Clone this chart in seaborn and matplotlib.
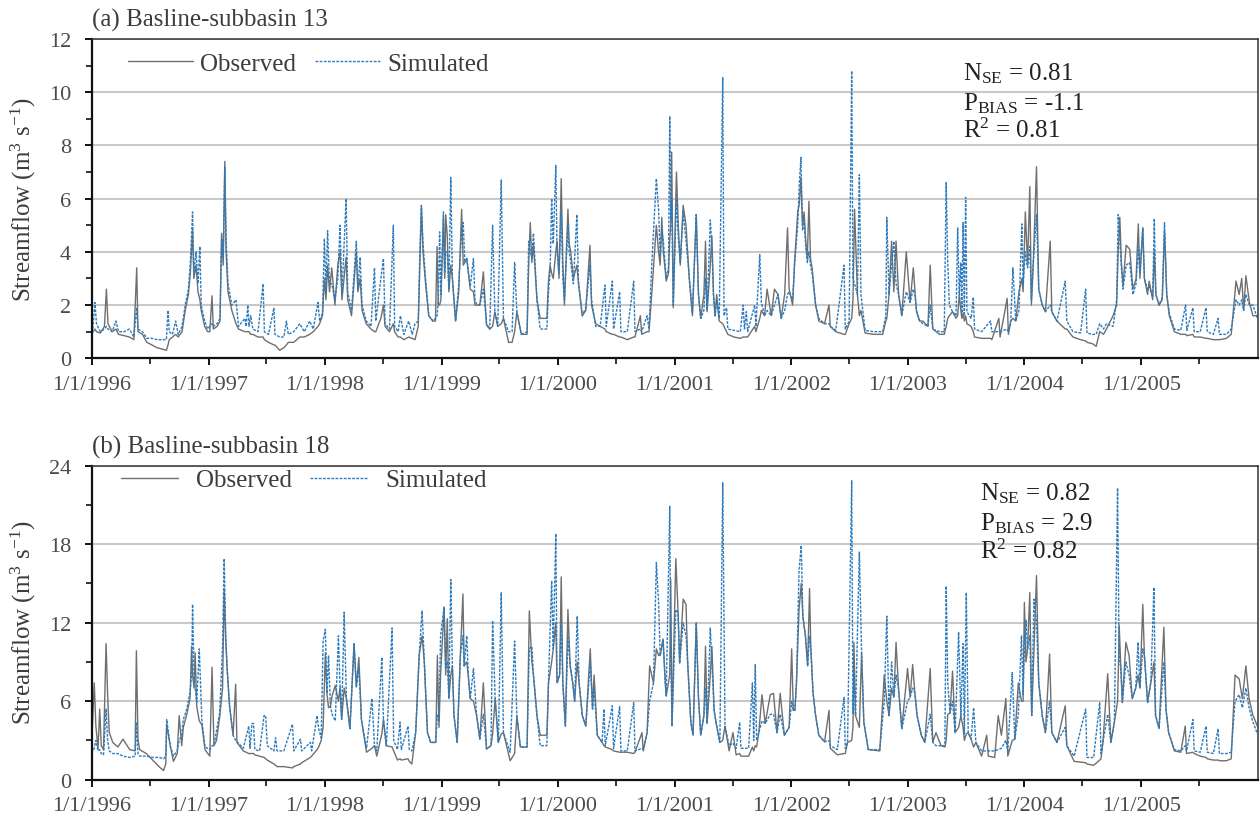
import pandas as pd
import matplotlib
matplotlib.use("Agg")
import matplotlib.pyplot as plt
import matplotlib.dates as mdates
from matplotlib.ticker import MultipleLocator
import seaborn as sns

# Daily streamflow (m3/s): (date, observed, simulated)
# ---------------- Subbasin 13 ----------------
basin13_1996 = [
    ("1996-01-01", 0.9, 0.8), ("1996-01-05", 1.0, 1.2), ("1996-01-11", 1.1, 2.1), ("1996-01-16", 1.0, 1.3),
    ("1996-01-28", 0.95, 1.0), ("1996-02-10", 1.2, 1.1), ("1996-02-16", 2.6, 1.2), ("1996-02-21", 1.3, 1.1),
    ("1996-03-05", 1.0, 1.0), ("1996-03-17", 1.1, 1.4), ("1996-03-25", 0.9, 1.0), ("1996-04-12", 0.85, 1.0),
    ("1996-04-28", 0.8, 1.1), ("1996-05-12", 0.7, 0.8), ("1996-05-21", 3.4, 1.9), ("1996-05-25", 1.0, 1.1),
    ("1996-06-08", 0.9, 1.0), ("1996-06-22", 0.6, 0.75), ("1996-07-08", 0.5, 0.75), ("1996-07-23", 0.4, 0.7),
    ("1996-08-08", 0.35, 0.7), ("1996-08-22", 0.3, 0.7), ("1996-08-27", 0.5, 1.8), ("1996-08-31", 0.7, 1.0),
    ("1996-09-10", 0.8, 0.9), ("1996-09-20", 0.9, 1.4), ("1996-09-28", 0.8, 0.9), ("1996-10-10", 1.0, 1.2),
    ("1996-10-20", 1.8, 2.0), ("1996-10-30", 2.4, 2.6), ("1996-11-05", 3.2, 3.6), ("1996-11-12", 4.8, 5.5),
    ("1996-11-16", 3.0, 3.2), ("1996-11-23", 3.5, 4.0), ("1996-11-29", 2.5, 2.8), ("1996-12-05", 2.2, 4.2),
    ("1996-12-09", 1.8, 2.0), ("1996-12-20", 1.2, 1.4), ("1996-12-29", 1.0, 1.1),
]
basin13_1997 = [
    ("1997-01-05", 1.0, 1.2), ("1997-01-12", 2.35, 1.3), ("1997-01-16", 1.1, 1.2), ("1997-01-28", 1.2, 1.3),
    ("1997-02-06", 1.4, 1.5), ("1997-02-11", 4.7, 4.5), ("1997-02-16", 3.5, 3.8), ("1997-02-21", 7.4, 7.2),
    ("1997-02-25", 4.0, 4.5), ("1997-03-03", 2.5, 2.8), ("1997-03-15", 1.8, 2.0), ("1997-03-28", 1.3, 2.2),
    ("1997-04-05", 1.1, 1.2), ("1997-04-25", 1.0, 1.5), ("1997-04-29", 1.0, 1.2), ("1997-05-04", 1.0, 2.0),
    ("1997-05-08", 1.0, 1.2), ("1997-05-13", 0.9, 1.6), ("1997-05-20", 0.9, 1.1), ("1997-06-05", 0.8, 1.0),
    ("1997-06-21", 0.8, 2.8), ("1997-06-25", 0.7, 1.0), ("1997-07-08", 0.6, 0.9), ("1997-07-25", 0.5, 1.9),
    ("1997-07-28", 0.5, 0.9), ("1997-08-12", 0.3, 0.8), ("1997-08-25", 0.4, 0.8), ("1997-09-02", 0.5, 1.4),
    ("1997-09-08", 0.6, 0.9), ("1997-09-25", 0.6, 1.0), ("1997-10-14", 0.8, 1.3), ("1997-10-28", 0.8, 1.0),
    ("1997-11-14", 0.9, 1.4), ("1997-11-25", 1.0, 1.1), ("1997-12-10", 1.2, 2.1), ("1997-12-15", 1.3, 1.4),
    ("1997-12-24", 1.6, 1.7), ("1997-12-30", 3.0, 4.5),
]
basin13_1998 = [
    ("1998-01-04", 2.2, 2.5), ("1998-01-09", 3.5, 4.8), ("1998-01-15", 2.5, 2.8), ("1998-01-22", 3.4, 2.8),
    ("1998-02-01", 2.0, 2.2), ("1998-02-10", 3.5, 3.0), ("1998-02-17", 4.0, 5.0), ("1998-02-23", 2.2, 2.4),
    ("1998-03-08", 3.8, 6.0), ("1998-03-13", 2.2, 2.5), ("1998-03-25", 1.6, 1.8), ("1998-04-09", 4.0, 4.4),
    ("1998-04-14", 2.5, 2.6), ("1998-04-21", 3.0, 3.8), ("1998-04-27", 1.8, 2.0), ("1998-05-10", 1.3, 1.4),
    ("1998-05-25", 1.1, 1.2), ("1998-06-05", 1.0, 3.4), ("1998-06-09", 1.0, 1.4), ("1998-06-25", 1.5, 3.0),
    ("1998-07-03", 2.0, 3.75), ("1998-07-08", 1.2, 1.3), ("1998-07-22", 1.0, 1.1), ("1998-08-03", 1.3, 5.0),
    ("1998-08-07", 1.0, 1.2), ("1998-08-18", 0.8, 1.0), ("1998-08-25", 0.8, 1.6), ("1998-09-05", 0.7, 0.9),
    ("1998-09-20", 0.8, 1.4), ("1998-10-01", 0.75, 0.9), ("1998-10-10", 0.7, 1.3), ("1998-10-20", 1.2, 1.4),
    ("1998-10-25", 3.5, 4.0), ("1998-10-30", 5.7, 5.75), ("1998-11-04", 4.0, 4.3), ("1998-11-12", 2.8, 3.0),
    ("1998-11-22", 1.6, 1.6), ("1998-12-05", 1.4, 1.4), ("1998-12-13", 1.4, 1.5), ("1998-12-18", 4.2, 1.6),
    ("1998-12-22", 2.0, 2.2), ("1998-12-26", 2.0, 4.75), ("1998-12-30", 2.2, 2.4),
]
basin13_1999 = [
    ("1999-01-07", 5.3, 5.5), ("1999-01-11", 3.0, 3.2), ("1999-01-14", 5.4, 4.0), ("1999-01-19", 4.6, 4.0),
    ("1999-01-24", 2.5, 2.6), ("1999-01-30", 3.5, 6.8), ("1999-02-04", 3.0, 3.0), ("1999-02-14", 1.4, 1.4),
    ("1999-02-24", 2.5, 2.8), ("1999-03-05", 5.6, 4.8), ("1999-03-10", 3.5, 5.1), ("1999-03-15", 3.6, 3.6),
    ("1999-03-21", 3.75, 3.75), ("1999-04-01", 2.6, 2.7), ("1999-04-11", 2.5, 3.75), ("1999-04-16", 2.0, 2.1),
    ("1999-05-01", 2.0, 2.0), ("1999-05-12", 3.25, 2.6), ("1999-05-22", 1.25, 1.3), ("1999-06-01", 1.1, 1.1),
    ("1999-06-10", 1.2, 5.0), ("1999-06-17", 1.75, 1.75), ("1999-06-26", 1.2, 1.2), ("1999-07-07", 1.3, 6.7),
    ("1999-07-14", 1.5, 1.5), ("1999-07-30", 0.6, 1.0), ("1999-08-10", 0.6, 1.0), ("1999-08-18", 1.0, 3.6),
    ("1999-08-25", 1.75, 1.75), ("1999-09-08", 0.9, 0.9), ("1999-09-26", 0.9, 1.0), ("1999-10-01", 3.5, 4.4),
    ("1999-10-06", 5.1, 4.0), ("1999-10-11", 3.6, 3.8), ("1999-10-16", 4.3, 4.7), ("1999-10-27", 2.2, 2.2),
    ("1999-11-06", 1.5, 1.1), ("1999-11-27", 1.5, 1.1), ("1999-12-02", 2.9, 2.5), ("1999-12-07", 3.5, 3.2),
    ("1999-12-12", 3.2, 6.0), ("1999-12-17", 3.0, 4.3), ("1999-12-25", 4.0, 7.25), ("1999-12-29", 4.4, 4.0),
]
basin13_2000 = [
    ("2000-01-04", 3.0, 3.2), ("2000-01-11", 6.75, 5.5), ("2000-01-16", 3.6, 3.0), ("2000-01-21", 2.0, 2.2),
    ("2000-02-01", 5.6, 5.0), ("2000-02-05", 4.3, 4.0), ("2000-02-10", 4.0, 3.6), ("2000-02-18", 3.0, 2.8),
    ("2000-02-29", 3.5, 5.4), ("2000-03-05", 2.8, 2.9), ("2000-03-17", 1.6, 1.6), ("2000-03-28", 1.8, 1.9),
    ("2000-04-10", 4.25, 3.5), ("2000-04-15", 2.0, 2.2), ("2000-04-28", 1.3, 1.2), ("2000-05-12", 1.2, 1.2),
    ("2000-05-27", 1.1, 2.75), ("2000-05-31", 1.0, 1.2), ("2000-06-19", 0.9, 2.9), ("2000-06-23", 0.9, 1.1),
    ("2000-07-12", 0.8, 2.5), ("2000-07-16", 0.8, 1.0), ("2000-08-05", 0.7, 1.0), ("2000-08-25", 0.8, 2.9),
    ("2000-08-29", 0.8, 1.0), ("2000-09-15", 1.6, 1.1), ("2000-09-19", 0.9, 1.0), ("2000-10-06", 1.0, 1.6),
    ("2000-10-12", 1.0, 1.1), ("2000-10-21", 2.5, 3.6), ("2000-11-04", 5.0, 6.75), ("2000-11-11", 4.0, 5.6),
    ("2000-11-16", 3.5, 3.8), ("2000-11-21", 5.3, 4.8), ("2000-11-26", 4.0, 4.4), ("2000-12-05", 2.9, 3.0),
    ("2000-12-12", 3.2, 3.4), ("2000-12-16", 4.5, 9.1), ("2000-12-19", 5.0, 5.2), ("2000-12-22", 7.75, 6.0),
    ("2000-12-27", 1.9, 2.0),
]
basin13_2001 = [
    ("2001-01-06", 7.0, 6.0), ("2001-01-12", 4.9, 4.5), ("2001-01-18", 3.5, 3.6), ("2001-01-27", 5.75, 5.5),
    ("2001-02-05", 5.0, 4.4), ("2001-02-15", 3.0, 3.1), ("2001-02-25", 1.6, 1.7), ("2001-03-09", 5.4, 5.4),
    ("2001-03-16", 2.4, 2.4), ("2001-03-23", 1.5, 1.5), ("2001-04-02", 2.4, 1.8), ("2001-04-07", 4.4, 3.0),
    ("2001-04-12", 1.75, 1.8), ("2001-04-22", 3.5, 5.2), ("2001-04-27", 4.6, 4.2), ("2001-05-02", 2.4, 2.4),
    ("2001-05-07", 1.6, 1.6), ("2001-05-12", 2.4, 2.2), ("2001-05-20", 1.4, 1.5), ("2001-05-31", 1.3, 10.55),
    ("2001-06-04", 1.2, 1.6), ("2001-06-12", 1.0, 1.9), ("2001-06-16", 0.9, 1.1), ("2001-07-05", 0.8, 1.05),
    ("2001-07-25", 0.75, 1.0), ("2001-08-03", 0.8, 2.0), ("2001-08-07", 0.8, 1.1), ("2001-08-13", 0.8, 1.75),
    ("2001-08-17", 0.8, 1.0), ("2001-09-08", 1.2, 2.0), ("2001-09-12", 1.0, 1.2), ("2001-09-24", 1.5, 3.9),
    ("2001-09-29", 1.8, 2.1), ("2001-10-09", 1.6, 1.6), ("2001-10-17", 2.6, 1.8), ("2001-10-30", 1.6, 1.6),
    ("2001-11-09", 2.6, 2.0), ("2001-11-20", 2.4, 2.4), ("2001-11-30", 1.5, 1.5), ("2001-12-11", 2.4, 1.8),
    ("2001-12-20", 4.9, 2.4), ("2001-12-25", 2.6, 2.5),
]
basin13_2002 = [
    ("2002-01-05", 2.0, 2.2), ("2002-01-11", 3.6, 3.5), ("2002-01-21", 5.5, 5.0), ("2002-01-26", 5.8, 6.6),
    ("2002-01-31", 6.8, 7.55), ("2002-02-05", 5.0, 4.8), ("2002-02-10", 5.5, 5.2), ("2002-02-15", 4.4, 4.2),
    ("2002-02-20", 3.75, 3.6), ("2002-02-25", 5.9, 4.0), ("2002-03-02", 3.75, 3.5), ("2002-03-07", 3.4, 3.2),
    ("2002-03-18", 2.0, 2.0), ("2002-03-28", 1.4, 1.5), ("2002-04-15", 1.3, 1.3), ("2002-04-29", 2.0, 1.3),
    ("2002-05-03", 1.2, 1.2), ("2002-05-20", 1.0, 1.05), ("2002-06-15", 0.9, 3.5), ("2002-06-19", 0.9, 1.1),
    ("2002-07-01", 1.3, 1.4), ("2002-07-09", 1.5, 10.8), ("2002-07-13", 2.2, 3.0), ("2002-07-18", 5.6, 2.8),
    ("2002-07-27", 2.4, 2.4), ("2002-08-02", 1.6, 6.9), ("2002-08-07", 1.8, 2.4), ("2002-08-20", 0.95, 1.05),
    ("2002-09-15", 0.9, 1.0), ("2002-10-14", 0.9, 1.0), ("2002-10-24", 1.4, 1.6), ("2002-10-27", 1.5, 5.3),
    ("2002-11-03", 2.4, 2.4), ("2002-11-11", 4.4, 3.5), ("2002-11-18", 2.5, 4.4), ("2002-11-25", 4.4, 2.8),
    ("2002-12-03", 2.4, 2.4), ("2002-12-13", 1.6, 1.6), ("2002-12-27", 4.0, 2.5),
]
basin13_2003 = [
    ("2003-01-08", 2.1, 2.1), ("2003-01-18", 3.4, 2.6), ("2003-01-23", 2.6, 2.4), ("2003-01-28", 1.75, 1.8),
    ("2003-02-07", 1.4, 1.4), ("2003-02-17", 1.4, 1.3), ("2003-03-05", 1.2, 1.2), ("2003-03-12", 3.5, 2.0),
    ("2003-03-20", 1.1, 1.1), ("2003-04-10", 0.9, 1.0), ("2003-04-25", 0.9, 1.0), ("2003-05-01", 1.2, 6.6),
    ("2003-05-06", 1.5, 3.6), ("2003-05-11", 1.6, 2.0), ("2003-05-21", 1.75, 1.75), ("2003-06-01", 1.5, 1.6),
    ("2003-06-06", 1.6, 4.9), ("2003-06-11", 2.4, 2.4), ("2003-06-16", 1.8, 3.6), ("2003-06-19", 1.5, 1.7),
    ("2003-06-23", 1.7, 5.1), ("2003-06-27", 1.4, 1.6), ("2003-07-01", 1.6, 6.05), ("2003-07-05", 1.3, 1.75),
    ("2003-07-18", 1.2, 1.5), ("2003-07-25", 1.0, 2.3), ("2003-07-29", 0.8, 1.1), ("2003-08-20", 0.75, 1.0),
    ("2003-09-17", 0.75, 1.4), ("2003-09-21", 0.7, 1.0), ("2003-10-13", 1.5, 1.0), ("2003-10-17", 0.8, 1.0),
    ("2003-11-08", 2.25, 1.1), ("2003-11-12", 0.9, 1.0), ("2003-11-19", 1.4, 1.3), ("2003-11-26", 1.5, 3.4),
    ("2003-12-05", 1.4, 1.4), ("2003-12-15", 2.5, 1.8), ("2003-12-24", 3.0, 5.05), ("2003-12-28", 2.5, 2.8),
]
basin13_2004 = [
    ("2004-01-04", 5.5, 4.0), ("2004-01-11", 3.5, 3.4), ("2004-01-18", 6.45, 4.2), ("2004-01-23", 2.0, 2.2),
    ("2004-01-29", 3.6, 3.6), ("2004-02-08", 7.2, 5.4), ("2004-02-15", 2.6, 2.6), ("2004-02-26", 2.0, 2.0),
    ("2004-03-07", 1.75, 1.75), ("2004-03-22", 4.4, 2.0), ("2004-03-27", 1.75, 1.75), ("2004-04-12", 1.4, 1.4),
    ("2004-05-08", 1.1, 2.9), ("2004-05-13", 1.1, 1.4), ("2004-06-01", 0.8, 1.0), ("2004-06-25", 0.7, 0.95),
    ("2004-07-11", 0.65, 2.6), ("2004-07-15", 0.6, 0.95), ("2004-08-01", 0.55, 0.9), ("2004-08-13", 0.45, 0.9),
    ("2004-08-24", 1.0, 1.3), ("2004-09-05", 0.9, 1.1), ("2004-09-14", 1.1, 1.3), ("2004-10-05", 1.6, 1.2),
    ("2004-10-16", 2.0, 2.2), ("2004-10-21", 4.0, 5.4), ("2004-10-26", 5.3, 4.5), ("2004-10-31", 3.6, 3.4),
    ("2004-11-05", 2.75, 2.6), ("2004-11-15", 4.25, 3.5), ("2004-11-26", 4.1, 3.6), ("2004-12-06", 2.6, 2.4),
    ("2004-12-16", 3.0, 2.8), ("2004-12-23", 5.05, 4.2), ("2004-12-28", 3.0, 3.2),
]
basin13_2005 = [
    ("2005-01-06", 4.9, 4.9), ("2005-01-11", 3.0, 3.0), ("2005-01-21", 2.4, 2.6), ("2005-01-26", 2.9, 2.7),
    ("2005-02-06", 2.2, 2.3), ("2005-02-11", 4.0, 5.25), ("2005-02-16", 2.4, 2.4), ("2005-02-26", 2.0, 2.0),
    ("2005-03-08", 2.2, 2.3), ("2005-03-15", 4.8, 5.1), ("2005-03-22", 2.4, 2.4), ("2005-03-30", 1.6, 1.7),
    ("2005-04-15", 1.0, 1.1), ("2005-05-05", 0.9, 1.05), ("2005-05-20", 0.9, 2.0), ("2005-05-24", 0.85, 1.05),
    ("2005-06-12", 0.9, 1.9), ("2005-06-16", 0.8, 1.0), ("2005-07-05", 0.8, 1.0), ("2005-07-23", 0.75, 1.9),
    ("2005-07-27", 0.75, 1.0), ("2005-08-15", 0.7, 0.9), ("2005-08-30", 0.7, 1.5), ("2005-09-03", 0.7, 0.9),
    ("2005-09-25", 0.75, 0.9), ("2005-10-10", 0.9, 1.1), ("2005-10-25", 2.9, 2.2), ("2005-11-04", 2.4, 2.0),
    ("2005-11-12", 3.0, 2.2), ("2005-11-18", 1.8, 1.8), ("2005-11-25", 3.1, 2.4), ("2005-12-06", 2.1, 2.0),
    ("2005-12-17", 1.6, 2.0), ("2005-12-31", 1.6, 1.5),
]

# ---------------- Subbasin 18 ----------------
basin18_1996 = [
    ("1996-01-01", 2.85, 2.0), ("1996-01-09", 7.4, 2.4), ("1996-01-14", 4.1, 3.0), ("1996-01-21", 2.4, 2.2),
    ("1996-01-26", 5.4, 2.3), ("1996-01-31", 2.6, 2.0), ("1996-02-07", 2.3, 1.9), ("1996-02-15", 10.4, 5.4),
    ("1996-02-20", 6.4, 3.0), ("1996-02-25", 3.6, 2.2), ("1996-03-07", 2.85, 2.0), ("1996-03-23", 2.5, 2.0),
    ("1996-04-08", 3.1, 1.8), ("1996-04-29", 2.3, 1.7), ("1996-05-16", 2.2, 1.8), ("1996-05-20", 9.85, 4.4),
    ("1996-05-25", 3.1, 2.0), ("1996-05-30", 2.3, 1.8), ("1996-06-20", 2.0, 1.8), ("1996-07-10", 1.5, 1.7),
    ("1996-08-01", 0.95, 1.7), ("1996-08-13", 0.7, 1.6), ("1996-08-20", 1.2, 1.8), ("1996-08-23", 4.2, 4.6),
    ("1996-09-03", 2.6, 2.6), ("1996-09-13", 1.4, 1.8), ("1996-09-25", 2.0, 2.2), ("1996-10-01", 4.9, 3.0),
    ("1996-10-09", 2.6, 3.4), ("1996-10-14", 4.0, 4.6), ("1996-10-25", 5.0, 5.4), ("1996-11-04", 6.2, 6.7),
    ("1996-11-09", 10.2, 8.0), ("1996-11-12", 8.0, 13.4), ("1996-11-17", 7.0, 7.8), ("1996-11-20", 9.7, 7.0),
    ("1996-11-25", 5.6, 5.9), ("1996-12-03", 4.5, 10.0), ("1996-12-11", 4.2, 4.6), ("1996-12-21", 2.3, 2.5),
]
basin18_1997 = [
    ("1997-01-05", 1.8, 2.3), ("1997-01-12", 8.6, 2.6), ("1997-01-18", 2.6, 2.6), ("1997-01-26", 3.0, 3.75),
    ("1997-02-05", 4.8, 5.1), ("1997-02-14", 7.0, 10.2), ("1997-02-19", 14.6, 16.9), ("1997-02-24", 10.5, 11.0),
    ("1997-03-01", 8.2, 8.2), ("1997-03-08", 5.6, 5.6), ("1997-03-19", 3.4, 3.4), ("1997-03-27", 7.3, 3.0),
    ("1997-03-31", 2.85, 2.9), ("1997-04-20", 2.2, 2.4), ("1997-05-07", 2.0, 4.1), ("1997-05-11", 2.0, 2.4),
    ("1997-05-17", 2.0, 4.3), ("1997-05-22", 2.0, 4.3), ("1997-05-26", 1.9, 2.3), ("1997-06-10", 1.8, 2.2),
    ("1997-06-24", 1.7, 4.9), ("1997-06-29", 1.6, 4.9), ("1997-07-04", 1.5, 2.6), ("1997-07-25", 1.2, 2.2),
    ("1997-07-30", 1.1, 3.2), ("1997-08-04", 1.0, 2.2), ("1997-08-25", 1.0, 2.2), ("1997-09-21", 0.9, 4.25),
    ("1997-09-25", 1.0, 2.2), ("1997-10-16", 1.2, 3.1), ("1997-10-20", 1.3, 2.2), ("1997-11-16", 1.7, 2.85),
    ("1997-11-20", 1.8, 2.2), ("1997-12-07", 2.3, 4.9), ("1997-12-12", 2.5, 3.9), ("1997-12-20", 3.0, 3.2),
    ("1997-12-26", 4.0, 10.6),
]
basin18_1998 = [
    ("1998-01-02", 9.7, 11.5), ("1998-01-07", 6.6, 6.6), ("1998-01-12", 5.5, 9.5), ("1998-01-18", 5.6, 5.6),
    ("1998-01-23", 6.4, 5.0), ("1998-02-02", 7.2, 4.5), ("1998-02-12", 6.0, 11.0), ("1998-02-17", 7.1, 7.1),
    ("1998-02-22", 4.6, 4.6), ("1998-03-02", 7.0, 12.8), ("1998-03-09", 6.2, 6.2), ("1998-03-20", 3.9, 3.9),
    ("1998-04-02", 10.4, 10.4), ("1998-04-09", 7.1, 7.1), ("1998-04-17", 9.35, 8.5), ("1998-04-25", 4.6, 4.6),
    ("1998-05-11", 2.1, 2.4), ("1998-05-28", 2.4, 6.2), ("1998-06-05", 2.6, 2.6), ("1998-06-12", 1.8, 2.2),
    ("1998-06-28", 3.5, 9.35), ("1998-07-03", 4.6, 4.6), ("1998-07-12", 2.6, 2.6), ("1998-07-30", 2.5, 11.6),
    ("1998-08-04", 2.2, 3.0), ("1998-08-16", 1.5, 2.3), ("1998-08-24", 1.6, 4.4), ("1998-08-28", 1.5, 2.3),
    ("1998-09-18", 1.6, 4.1), ("1998-09-22", 1.4, 2.3), ("1998-09-30", 1.2, 2.2), ("1998-10-12", 3.6, 3.6),
    ("1998-10-23", 9.5, 9.5), ("1998-11-01", 11.0, 12.9), ("1998-11-08", 9.0, 9.0), ("1998-11-13", 6.2, 6.2),
    ("1998-11-18", 3.6, 3.6), ("1998-11-28", 2.85, 2.85), ("1998-12-14", 2.85, 2.85), ("1998-12-19", 9.5, 5.0),
    ("1998-12-24", 4.0, 4.5), ("1998-12-29", 8.0, 11.0),
]
basin18_1999 = [
    ("1999-01-09", 13.2, 13.2), ("1999-01-14", 8.0, 8.5), ("1999-01-19", 12.3, 9.0), ("1999-01-24", 6.2, 6.2),
    ("1999-01-30", 8.0, 15.3), ("1999-02-04", 8.7, 8.7), ("1999-02-09", 4.9, 4.9), ("1999-02-19", 2.85, 2.85),
    ("1999-03-01", 9.5, 9.5), ("1999-03-09", 14.2, 11.0), ("1999-03-13", 8.7, 8.7), ("1999-03-21", 9.0, 11.0),
    ("1999-03-26", 7.9, 7.9), ("1999-04-01", 6.2, 6.2), ("1999-04-11", 6.0, 8.5), ("1999-04-21", 4.9, 4.9),
    ("1999-05-01", 3.1, 3.1), ("1999-05-12", 7.4, 5.0), ("1999-05-22", 2.35, 2.35), ("1999-06-05", 2.6, 2.6),
    ("1999-06-10", 3.5, 12.15), ("1999-06-18", 6.2, 6.2), ("1999-06-28", 2.85, 2.85), ("1999-07-07", 3.5, 14.3),
    ("1999-07-14", 3.6, 3.6), ("1999-08-04", 1.45, 2.1), ("1999-08-18", 2.0, 10.6), ("1999-08-25", 4.9, 4.9),
    ("1999-09-05", 2.5, 2.5), ("1999-09-26", 2.5, 2.5), ("1999-10-03", 12.9, 10.0), ("1999-10-11", 9.0, 10.2),
    ("1999-10-16", 8.0, 8.0), ("1999-10-27", 4.9, 4.9), ("1999-11-06", 3.4, 2.6), ("1999-11-27", 3.4, 2.6),
    ("1999-12-02", 7.4, 7.4), ("1999-12-12", 9.0, 15.2), ("1999-12-17", 10.0, 10.0), ("1999-12-25", 12.0, 18.8),
    ("1999-12-29", 7.4, 7.4),
]
basin18_2000 = [
    ("2000-01-06", 8.0, 8.0), ("2000-01-11", 15.5, 12.0), ("2000-01-16", 7.4, 7.4), ("2000-01-24", 4.1, 4.1),
    ("2000-02-01", 13.0, 11.0), ("2000-02-08", 8.7, 8.7), ("2000-02-16", 7.4, 7.4), ("2000-02-22", 6.0, 6.0),
    ("2000-03-01", 9.0, 12.5), ("2000-03-07", 7.4, 7.4), ("2000-03-17", 4.9, 4.9), ("2000-03-28", 4.1, 4.1),
    ("2000-04-11", 10.0, 9.0), ("2000-04-18", 5.4, 5.4), ("2000-04-23", 8.0, 7.0), ("2000-05-03", 3.4, 3.4),
    ("2000-05-18", 2.85, 2.85), ("2000-05-24", 2.6, 5.4), ("2000-05-28", 2.5, 2.6), ("2000-06-19", 2.3, 5.65),
    ("2000-06-23", 2.2, 2.4), ("2000-07-12", 2.1, 5.6), ("2000-07-16", 2.1, 2.2), ("2000-08-05", 2.1, 2.2),
    ("2000-08-25", 2.0, 5.9), ("2000-08-29", 2.1, 2.2), ("2000-09-20", 3.6, 2.4), ("2000-09-24", 2.2, 2.3),
    ("2000-10-06", 3.6, 3.6), ("2000-10-14", 8.7, 6.0), ("2000-10-26", 7.4, 7.4), ("2000-11-04", 10.0, 16.6),
    ("2000-11-11", 9.5, 13.55), ("2000-11-16", 9.5, 9.5), ("2000-11-25", 10.75, 10.75), ("2000-12-02", 7.4, 7.4),
    ("2000-12-05", 6.4, 6.4), ("2000-12-16", 8.0, 20.9), ("2000-12-19", 15.3, 10.0), ("2000-12-23", 4.1, 4.1),
]
basin18_2001 = [
    ("2001-01-04", 16.9, 13.0), ("2001-01-11", 12.8, 12.8), ("2001-01-16", 8.9, 8.9), ("2001-01-27", 13.8, 12.0),
    ("2001-02-05", 13.4, 11.0), ("2001-02-10", 9.0, 9.0), ("2001-02-20", 4.4, 4.4), ("2001-02-27", 3.4, 3.4),
    ("2001-03-09", 12.0, 12.0), ("2001-03-16", 6.3, 6.3), ("2001-03-23", 3.4, 3.4), ("2001-04-02", 4.9, 4.9),
    ("2001-04-07", 10.2, 7.0), ("2001-04-12", 4.3, 4.3), ("2001-04-22", 8.0, 11.6), ("2001-04-27", 10.2, 9.0),
    ("2001-05-04", 5.3, 5.3), ("2001-05-12", 4.1, 4.1), ("2001-05-22", 2.85, 2.85), ("2001-05-31", 3.0, 22.7),
    ("2001-06-07", 4.1, 4.1), ("2001-06-20", 2.2, 2.6), ("2001-07-02", 3.6, 2.8), ("2001-07-12", 1.9, 2.4),
    ("2001-07-23", 2.0, 4.4), ("2001-07-27", 1.8, 2.4), ("2001-08-20", 1.8, 2.4), ("2001-09-01", 2.5, 7.4),
    ("2001-09-05", 2.2, 3.0), ("2001-09-10", 2.6, 8.8), ("2001-09-14", 2.5, 3.0), ("2001-09-21", 3.6, 3.6),
    ("2001-10-01", 6.5, 4.5), ("2001-10-11", 4.3, 4.3), ("2001-10-27", 6.5, 5.0), ("2001-11-06", 6.6, 5.0),
    ("2001-11-17", 3.6, 3.6), ("2001-11-27", 6.6, 5.0), ("2001-12-10", 3.4, 3.4), ("2001-12-25", 4.0, 4.0),
]
basin18_2002 = [
    ("2002-01-02", 10.0, 6.0), ("2002-01-07", 5.3, 5.3), ("2002-01-12", 5.3, 5.3), ("2002-01-17", 7.4, 7.4),
    ("2002-01-25", 13.0, 16.0), ("2002-02-01", 15.0, 17.9), ("2002-02-06", 12.5, 12.5), ("2002-02-14", 11.0, 11.0),
    ("2002-02-21", 8.7, 8.7), ("2002-02-27", 14.6, 11.0), ("2002-03-03", 10.0, 10.0), ("2002-03-10", 6.6, 6.6),
    ("2002-03-18", 4.9, 4.9), ("2002-03-28", 3.4, 3.4), ("2002-04-15", 2.9, 2.9), ("2002-04-29", 5.3, 3.0),
    ("2002-05-03", 2.4, 2.6), ("2002-05-25", 1.9, 2.3), ("2002-06-15", 2.0, 6.3), ("2002-06-19", 2.0, 2.4),
    ("2002-06-26", 2.85, 2.85), ("2002-07-09", 3.0, 22.85), ("2002-07-13", 4.0, 5.0), ("2002-07-16", 10.5, 8.0),
    ("2002-07-21", 4.9, 4.9), ("2002-08-02", 4.0, 17.4), ("2002-08-09", 9.7, 9.7), ("2002-08-16", 4.4, 4.4),
    ("2002-08-30", 2.3, 2.3), ("2002-10-05", 2.2, 2.3), ("2002-10-19", 8.0, 6.0), ("2002-10-27", 6.0, 12.5),
    ("2002-11-03", 4.9, 4.9), ("2002-11-11", 7.0, 9.0), ("2002-11-18", 6.3, 6.3), ("2002-11-25", 10.5, 8.0),
    ("2002-12-03", 6.9, 6.9), ("2002-12-13", 3.9, 3.9), ("2002-12-31", 8.5, 6.0),
]
basin18_2003 = [
    ("2003-01-08", 6.3, 6.3), ("2003-01-16", 8.8, 7.0), ("2003-01-23", 6.6, 6.6), ("2003-01-30", 4.9, 4.9),
    ("2003-02-12", 3.4, 3.4), ("2003-02-23", 2.85, 2.85), ("2003-03-12", 8.5, 5.0), ("2003-03-20", 2.85, 2.85),
    ("2003-03-30", 3.6, 2.6), ("2003-04-15", 2.6, 2.6), ("2003-04-27", 2.5, 2.6), ("2003-05-01", 3.0, 14.8),
    ("2003-05-06", 5.0, 7.4), ("2003-05-13", 5.1, 5.1), ("2003-05-21", 8.3, 6.0), ("2003-05-29", 3.6, 3.6),
    ("2003-06-09", 4.0, 11.3), ("2003-06-16", 4.9, 4.9), ("2003-06-23", 4.0, 10.4), ("2003-06-27", 3.0, 3.5),
    ("2003-07-03", 3.5, 14.3), ("2003-07-09", 3.6, 3.6), ("2003-07-18", 3.1, 3.1), ("2003-07-26", 2.5, 5.5),
    ("2003-08-02", 2.85, 2.85), ("2003-08-20", 1.8, 2.2), ("2003-09-05", 3.4, 2.2), ("2003-09-10", 1.8, 2.2),
    ("2003-09-30", 1.7, 2.2), ("2003-10-11", 4.9, 2.3), ("2003-10-21", 3.4, 2.4), ("2003-11-04", 6.2, 3.0),
    ("2003-11-10", 1.8, 2.2), ("2003-11-24", 3.0, 8.2), ("2003-12-02", 3.1, 3.1), ("2003-12-13", 7.4, 5.0),
    ("2003-12-23", 6.0, 11.0), ("2003-12-28", 6.0, 6.5),
]
basin18_2004 = [
    ("2004-01-01", 13.55, 10.0), ("2004-01-06", 9.0, 12.2), ("2004-01-11", 10.0, 10.0), ("2004-01-18", 14.3, 11.0),
    ("2004-01-24", 4.9, 4.9), ("2004-01-31", 10.0, 13.8), ("2004-02-08", 15.6, 12.0), ("2004-02-15", 7.4, 7.4),
    ("2004-02-26", 4.9, 4.9), ("2004-03-07", 3.6, 3.6), ("2004-03-20", 9.6, 6.0), ("2004-03-27", 3.6, 3.6),
    ("2004-04-12", 2.85, 2.85), ("2004-05-08", 5.65, 4.0), ("2004-05-13", 2.6, 2.6), ("2004-06-05", 1.4, 1.8),
    ("2004-07-11", 1.3, 5.4), ("2004-07-15", 1.2, 1.7), ("2004-08-05", 1.1, 1.7), ("2004-08-24", 1.5, 5.9),
    ("2004-08-28", 1.6, 2.0), ("2004-09-03", 2.85, 2.85), ("2004-09-18", 8.1, 5.0), ("2004-09-28", 2.85, 2.85),
    ("2004-10-09", 4.4, 4.4), ("2004-10-19", 6.0, 22.3), ("2004-10-22", 9.0, 14.3), ("2004-10-24", 11.8, 9.0),
    ("2004-10-29", 8.7, 8.7), ("2004-11-03", 5.9, 5.9), ("2004-11-14", 10.5, 9.0), ("2004-11-24", 9.5, 8.0),
    ("2004-12-04", 6.2, 6.2), ("2004-12-15", 7.0, 7.0), ("2004-12-22", 8.0, 10.5), ("2004-12-28", 7.0, 7.0),
]
basin18_2005 = [
    ("2005-01-06", 13.4, 10.0), ("2005-01-11", 9.5, 9.5), ("2005-01-21", 5.9, 5.9), ("2005-01-31", 7.4, 7.4),
    ("2005-02-10", 9.0, 14.7), ("2005-02-15", 4.9, 4.9), ("2005-02-26", 3.9, 3.9), ("2005-03-13", 11.65, 9.0),
    ("2005-03-20", 5.3, 5.3), ("2005-03-28", 3.6, 3.6), ("2005-04-15", 2.2, 2.3), ("2005-05-05", 2.1, 2.2),
    ("2005-05-19", 4.1, 2.6), ("2005-05-23", 2.0, 2.2), ("2005-06-12", 2.1, 4.6), ("2005-06-16", 2.0, 2.2),
    ("2005-07-05", 1.8, 2.1), ("2005-07-23", 1.7, 4.1), ("2005-07-27", 1.6, 2.1), ("2005-08-15", 1.5, 2.0),
    ("2005-08-30", 1.5, 3.9), ("2005-09-03", 1.45, 2.0), ("2005-09-25", 1.45, 2.0), ("2005-10-10", 1.6, 2.1),
    ("2005-10-22", 8.0, 6.0), ("2005-11-04", 7.7, 6.5), ("2005-11-14", 6.2, 5.5), ("2005-11-25", 8.7, 7.0),
    ("2005-12-05", 6.2, 5.5), ("2005-12-16", 5.0, 4.5), ("2005-12-31", 4.1, 3.5),
]

years = list(range(1996, 2006))
year_labels = [f"1/1/{y}" for y in years]
titles = ["(a) Basline-subbasin 13", "(b) Basline-subbasin 18"]
stats_13 = ["N$_{\\mathrm{SE}}$ = 0.81", "P$_{\\mathrm{BIAS}}$ = -1.1", "R$^{2}$ = 0.81"]
stats_18 = ["N$_{\\mathrm{SE}}$ = 0.82", "P$_{\\mathrm{BIAS}}$ = 2.9", "R$^{2}$ = 0.82"]
series_names = ["Observed", "Simulated"]

basin13 = [basin13_1996, basin13_1997, basin13_1998, basin13_1999, basin13_2000,
           basin13_2001, basin13_2002, basin13_2003, basin13_2004, basin13_2005]
basin18 = [basin18_1996, basin18_1997, basin18_1998, basin18_1999, basin18_2000,
           basin18_2001, basin18_2002, basin18_2003, basin18_2004, basin18_2005]

# ---------------- styling ----------------
sns.set_theme(style="ticks")
plt.rcParams["font.family"] = ["Liberation Serif", "DejaVu Serif"]
plt.rcParams["mathtext.fontset"] = "custom"
plt.rcParams["mathtext.rm"] = "Liberation Serif"
plt.rcParams["mathtext.it"] = "Liberation Serif:italic"
plt.rcParams["mathtext.bf"] = "Liberation Serif:bold"

TEXT = "#3c3c3c"
TICKTXT = "#4d4a47"
OBS_COLOR = "#6f6f6f"
SIM_COLOR = "#2c7bbd"
GRID = "#c9c9c9"

W, H = 1260, 820
fig = plt.figure(figsize=(W / 100, H / 100), dpi=100)


def px_x(x):
    return x / W


def px_y(y):
    return 1 - y / H


def to_frame(blocks):
    rows = [r for block in blocks for r in block]
    df = pd.DataFrame(rows, columns=["date", "Observed", "Simulated"])
    df["date"] = pd.to_datetime(df["date"])
    return df


def draw_panel(ax, df, ymax, ymajor, yminor, legend_anchor, legend_kw):
    sns.lineplot(data=df, x="date", y="Observed", ax=ax, color=OBS_COLOR, lw=1.0,
                 label=series_names[0], errorbar=None, legend=False)
    sns.lineplot(data=df, x="date", y="Simulated", ax=ax, color=SIM_COLOR, lw=1.0,
                 linestyle=(0, (2.0, 1.0)), label=series_names[1], errorbar=None, legend=False)
    ax.set_xlabel("")
    ax.set_ylabel("")

    x0 = mdates.date2num(pd.Timestamp("1996-01-01"))
    x1 = mdates.date2num(pd.Timestamp("2006-01-01"))
    ax.set_xlim(x0, x1)
    ax.set_xticks([mdates.date2num(pd.Timestamp(f"{y}-01-01")) for y in years])
    ax.set_xticklabels(year_labels)
    ax.set_xticks([mdates.date2num(pd.Timestamp(f"{y}-07-01")) for y in years], minor=True)

    ax.set_ylim(0, ymax)
    ax.yaxis.set_major_locator(MultipleLocator(ymajor))
    ax.yaxis.set_minor_locator(MultipleLocator(yminor))

    ax.grid(axis="y", which="major", color=GRID, lw=1.5)
    ax.grid(axis="x", visible=False)
    ax.set_axisbelow(True)

    for side in ["left", "bottom"]:
        ax.spines[side].set_color("#111111")
        ax.spines[side].set_linewidth(1.6)
    for side in ["top", "right"]:
        ax.spines[side].set_visible(True)
        ax.spines[side].set_color("#333333")
        ax.spines[side].set_linewidth(1.1)

    ax.tick_params(axis="both", which="major", direction="out", length=5, width=1.4,
                   color="#111111", labelsize=16, labelcolor=TICKTXT)
    ax.tick_params(axis="both", which="minor", direction="out", length=4, width=1.2,
                   color="#111111")
    ax.tick_params(axis="x", which="both", bottom=True, top=False, pad=7)
    ax.tick_params(axis="y", which="both", left=True, right=False, pad=10)

    handles, labels = ax.get_legend_handles_labels()
    leg = ax.legend(handles, labels, loc="center left", bbox_to_anchor=legend_anchor,
                    ncol=2, frameon=False, fontsize=18, borderaxespad=0, borderpad=0,
                    **legend_kw)
    for t in leg.get_texts():
        t.set_color(TEXT)


# axes placement (pixel frame of each panel)
ax_a = fig.add_axes([px_x(91.7), px_y(359.3), (1257.7 - 91.7) / W, (359.3 - 40) / H])
ax_b = fig.add_axes([px_x(91.7), px_y(780.7), (1257.7 - 91.7) / W, (780.7 - 466.7) / H])

draw_panel(ax_a, to_frame(basin13), 12, 2, 1, (0.0311, 0.922),
           dict(handlelength=2.6, handletextpad=0.3, columnspacing=0.75))
draw_panel(ax_b, to_frame(basin18), 24, 6, 3, (0.0249, 0.954),
           dict(handlelength=2.3, handletextpad=0.7, columnspacing=0.75))

# panel titles
fig.text(px_x(92), px_y(27), titles[0], fontsize=18, color=TEXT, ha="left", va="baseline")
fig.text(px_x(92), px_y(454), titles[1], fontsize=18, color=TEXT, ha="left", va="baseline")

# y-axis labels
ylab = "Streamflow (m$^{3}$ s$^{-1}$)"
fig.text(px_x(23), px_y(200), ylab, fontsize=18, color=TEXT, rotation=90, ha="center", va="center")
fig.text(px_x(23), px_y(623), ylab, fontsize=18, color=TEXT, rotation=90, ha="center", va="center")

# goodness-of-fit statistics
for s, yb in zip(stats_13, [80, 110, 138]):
    fig.text(px_x(963), px_y(yb), s, fontsize=18, color="#222222", ha="left", va="baseline")
for s, yb in zip(stats_18, [500, 530, 559]):
    fig.text(px_x(980), px_y(yb), s, fontsize=18, color="#222222", ha="left", va="baseline")

fig.savefig("out.png", dpi=100)
